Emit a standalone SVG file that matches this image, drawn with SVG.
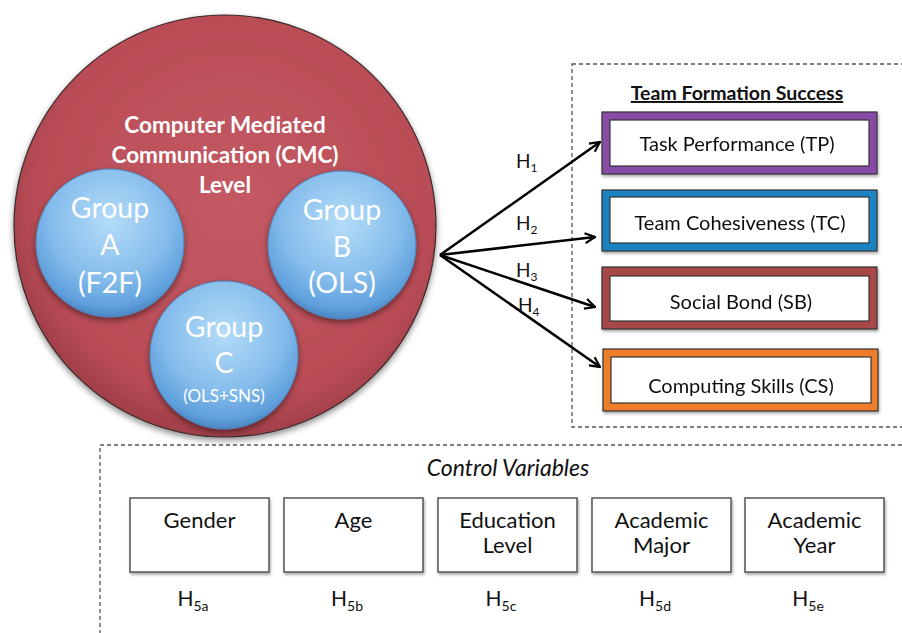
<svg xmlns="http://www.w3.org/2000/svg" width="902" height="633" viewBox="0 0 902 633">
<defs>
  <radialGradient id="redG" cx="52%" cy="45%" r="55%">
    <stop offset="0" stop-color="#c45a64"/>
    <stop offset="0.85" stop-color="#b94c56"/>
    <stop offset="1" stop-color="#a13f49"/>
  </radialGradient>
  <radialGradient id="blueG" cx="50%" cy="35%" r="65%">
    <stop offset="0" stop-color="#b4dcf8"/>
    <stop offset="0.6" stop-color="#86bdec"/>
    <stop offset="0.9" stop-color="#5e9fdc"/>
    <stop offset="1" stop-color="#4a86c2"/>
  </radialGradient>
  <filter id="sh" x="-20%" y="-20%" width="140%" height="150%">
    <feGaussianBlur in="SourceAlpha" stdDeviation="3"/>
    <feOffset dx="0" dy="3" result="b"/>
    <feComponentTransfer><feFuncA type="linear" slope="0.45"/></feComponentTransfer>
    <feMerge><feMergeNode/><feMergeNode in="SourceGraphic"/></feMerge>
  </filter>
  <filter id="shs" x="-10%" y="-10%" width="120%" height="130%">
    <feGaussianBlur in="SourceAlpha" stdDeviation="1.5"/>
    <feOffset dx="1" dy="2" result="b"/>
    <feComponentTransfer><feFuncA type="linear" slope="0.35"/></feComponentTransfer>
    <feMerge><feMergeNode/><feMergeNode in="SourceGraphic"/></feMerge>
  </filter>
  <marker id="arr" viewBox="0 0 12 12" refX="11" refY="6" markerWidth="12" markerHeight="12" markerUnits="userSpaceOnUse" orient="auto">
    <path d="M1,1 L11,6 L1,11" fill="none" stroke="#000" stroke-width="2.2" stroke-linejoin="miter"/>
  </marker>
  <style>
    text { font-family: Lato, "Liberation Sans", sans-serif; }
    .dash { fill: none; stroke: #555; stroke-width: 1.3; stroke-dasharray: 4 3; }
    .blue { fill: url(#blueG); stroke: #4d86bb; stroke-width: 1; }
    .wt { fill: #fff; text-anchor: middle; }
    .grp { font-size: 28.5px; }
    .title { font-size: 22.5px; font-weight: bold; }
    .outer { stroke: #333; stroke-width: 1.2; }
    .inner { fill: #fff; stroke: #333; stroke-width: 1.2; }
    .lbl { font-size: 20px; fill: #111; text-anchor: middle; }
    .cv { fill: #fff; stroke: #555; stroke-width: 1.5; }
    .cvt { font-size: 22px; fill: #111; text-anchor: middle; }
    .h { font-size: 19px; fill: #111; }
    .hs { font-size: 21px; fill: #111; text-anchor: middle; }
    .sub { font-size: 12px; }
    .sub2 { font-size: 14px; }
    .conn { stroke: #000; stroke-width: 2.5; fill: none; marker-end: url(#arr); }
  </style>
</defs>
<rect width="902" height="633" fill="#fff"/>

<rect class="dash" x="572" y="64" width="345" height="363"/>
<rect class="dash" x="100" y="445" width="815" height="200"/>

<g id="cmc">
  <circle cx="225" cy="226" r="211" fill="url(#redG)" stroke="#3a2a2a" stroke-width="1.2" filter="url(#sh)"/>
  <text class="wt title" x="225" y="133">Computer Mediated</text>
  <text class="wt title" x="225" y="163">Communication (CMC)</text>
  <text class="wt title" x="225" y="193">Level</text>
</g>
<g id="groupA">
  <circle class="blue" cx="110" cy="243" r="74" filter="url(#sh)"/>
  <text class="wt grp" x="110" y="218">Group</text>
  <text class="wt grp" x="110" y="255">A</text>
  <text class="wt grp" x="110" y="293">(F2F)</text>
</g>
<g id="groupB">
  <circle class="blue" cx="342" cy="245" r="74" filter="url(#sh)"/>
  <text class="wt grp" x="342" y="220">Group</text>
  <text class="wt grp" x="342" y="257">B</text>
  <text class="wt grp" x="342" y="293">(OLS)</text>
</g>
<g id="groupC">
  <circle class="blue" cx="224" cy="355" r="74" filter="url(#sh)"/>
  <text class="wt grp" x="224" y="337">Group</text>
  <text class="wt grp" x="224" y="373">C</text>
  <text class="wt" x="224" y="402" font-size="17">(OLS+SNS)</text>
</g>

<g id="connectors">
  <line class="conn" x1="440" y1="255" x2="600" y2="142"/>
  <line class="conn" x1="440" y1="255" x2="595" y2="237"/>
  <line class="conn" x1="440" y1="255" x2="595" y2="307"/>
  <line class="conn" x1="440" y1="255" x2="600" y2="367"/>
  <text class="h" x="516" y="168">H<tspan class="sub" dy="4">1</tspan></text>
  <text class="h" x="516" y="230">H<tspan class="sub" dy="4">2</tspan></text>
  <text class="h" x="516" y="277">H<tspan class="sub" dy="4">3</tspan></text>
  <text class="h" x="518" y="312">H<tspan class="sub" dy="4">4</tspan></text>
</g>

<g id="tfs">
  <text x="737" y="100" font-size="19.5" font-weight="bold" fill="#111" text-anchor="middle" text-decoration="underline">Team Formation Success</text>
</g>
<g id="tp" filter="url(#shs)">
  <rect class="outer" x="602" y="112" width="275" height="62" fill="#8a4ca8"/>
  <rect class="inner" x="610" y="120" width="259" height="46"/>
  <text class="lbl" x="737" y="151">Task Performance (TP)</text>
</g>
<g id="tc" filter="url(#shs)">
  <rect class="outer" x="602" y="190" width="275" height="61" fill="#1c83c3"/>
  <rect class="inner" x="610" y="197" width="259" height="46"/>
  <text class="lbl" x="740" y="230">Team Cohesiveness (TC)</text>
</g>
<g id="sb" filter="url(#shs)">
  <rect class="outer" x="602" y="267" width="275" height="62" fill="#a84646"/>
  <rect class="inner" x="610" y="276" width="259" height="45"/>
  <text class="lbl" x="741" y="309">Social Bond (SB)</text>
</g>
<g id="cs" filter="url(#shs)">
  <rect class="outer" x="603" y="349" width="275" height="62" fill="#ee7d2b"/>
  <rect class="inner" x="611" y="357" width="260" height="46"/>
  <text class="lbl" x="741" y="393">Computing Skills (CS)</text>
</g>

<g id="controls">
  <text x="508" y="476" font-size="23" font-style="italic" fill="#111" text-anchor="middle">Control Variables</text>
</g>
<g id="gender">
  <rect class="cv" x="130" y="498" width="139" height="74" filter="url(#shs)"/>
  <text class="cvt" x="199.5" y="528">Gender</text>
  <text class="hs" x="193" y="606">H<tspan class="sub2" dy="5">5a</tspan></text>
</g>
<g id="age">
  <rect class="cv" x="284" y="498" width="139" height="74" filter="url(#shs)"/>
  <text class="cvt" x="353.5" y="528">Age</text>
  <text class="hs" x="347" y="606">H<tspan class="sub2" dy="5">5b</tspan></text>
</g>
<g id="education">
  <rect class="cv" x="438" y="498" width="139" height="74" filter="url(#shs)"/>
  <text class="cvt" x="507.5" y="528">Education</text>
  <text class="cvt" x="507.5" y="553">Level</text>
  <text class="hs" x="501" y="606">H<tspan class="sub2" dy="5">5c</tspan></text>
</g>
<g id="major">
  <rect class="cv" x="592" y="498" width="139" height="74" filter="url(#shs)"/>
  <text class="cvt" x="661.5" y="528">Academic</text>
  <text class="cvt" x="661.5" y="553">Major</text>
  <text class="hs" x="655" y="606">H<tspan class="sub2" dy="5">5d</tspan></text>
</g>
<g id="year">
  <rect class="cv" x="745" y="498" width="139" height="74" filter="url(#shs)"/>
  <text class="cvt" x="814.5" y="528">Academic</text>
  <text class="cvt" x="814.5" y="553">Year</text>
  <text class="hs" x="808" y="606">H<tspan class="sub2" dy="5">5e</tspan></text>
</g>
</svg>
